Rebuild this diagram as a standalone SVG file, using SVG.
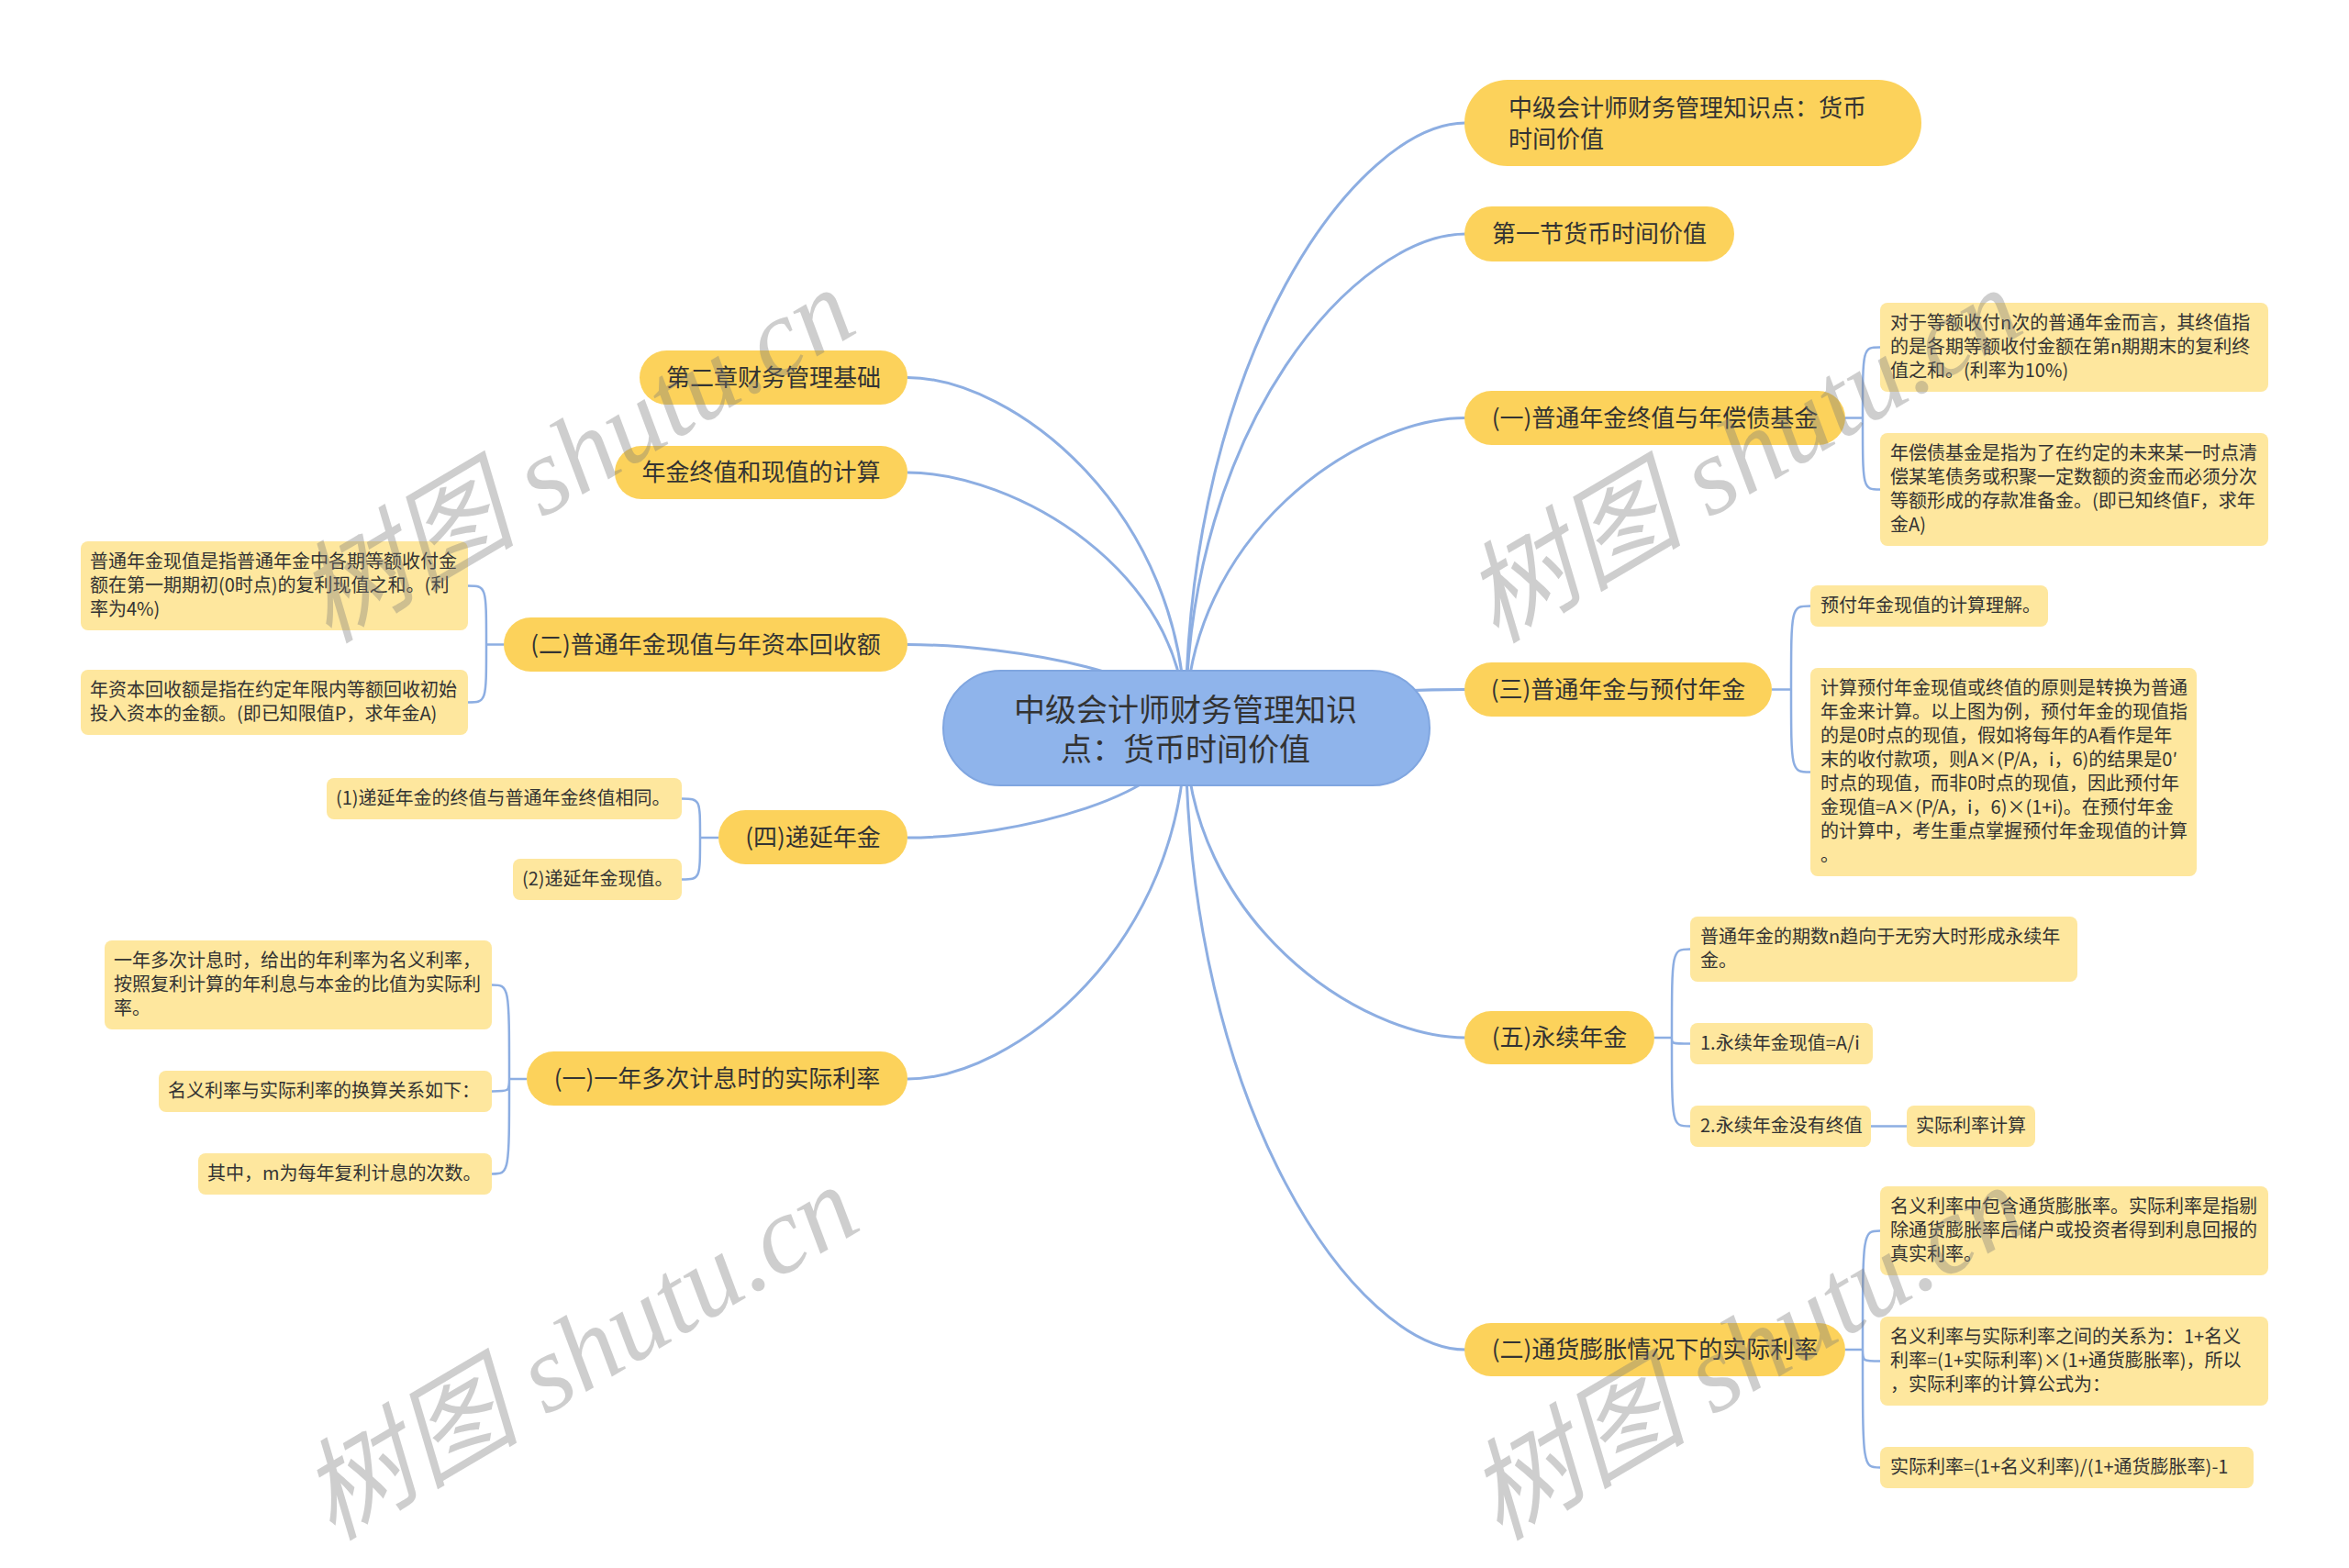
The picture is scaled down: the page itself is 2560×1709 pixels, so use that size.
<svg xmlns="http://www.w3.org/2000/svg" width="2560" height="1709" viewBox="0 0 2560 1709">
<style>
text{font-family:"Noto Sans CJK SC","Noto Sans",sans-serif;fill:#333333}
.conn path{fill:none;stroke:#8DAEE2;stroke-width:3}
.br path{fill:none;stroke:#8DAEE2;stroke-width:2.5}
.l1 rect{fill:#FCD25B}
.l1 text{font-size:26px}
.l1m text{text-anchor:middle}
.l2 rect{fill:#FEE79E}
.l2 text{font-size:20px}
.root rect{fill:#8FB4EB;stroke:#80A6E0;stroke-width:2}
.root text{font-size:34px;text-anchor:middle}
.wm{font-family:"Liberation Serif","Noto Sans CJK SC",serif;font-style:italic;font-size:120px;fill:#7a7a7a;opacity:0.36}
</style>
<rect width="2560" height="1709" fill="#ffffff"/>
<g id="connectors">
<g class="conn">
<path d="M1292 793 C1292 384.4 1481.1 134 1597 134"/>
<path d="M1292 793 C1292 459.4 1481.1 255 1597 255"/>
<path d="M1292 793 C1292 583.7 1481.1 455.5 1597 455.5"/>
<path d="M1292 793 C1292 767.3 1481.1 751.5 1597 751.5"/>
<path d="M1292 793 C1292 1002.6 1481.1 1131 1597 1131"/>
<path d="M1292 793 C1292 1213.4 1481.1 1471 1597 1471"/>
<path d="M1292 793 C1292 556.5 1104.1 411.5 989 411.5"/>
<path d="M1292 793 C1292 620.6 1104.1 515 989 515"/>
<path d="M1292 793 C1292 736.9 1104.1 702.5 989 702.5"/>
<path d="M1292 793 C1292 867.4 1104.1 913 989 913"/>
<path d="M1292 793 C1292 1030.5 1104.1 1176 989 1176"/>
</g>
<g class="br">
<path d="M2011 455.5 H2030 M2030 455.5 C2030 378.5 2030 378.5 2049 378.5 M2030 455.5 C2030 533.5 2030 533.5 2049 533.5"/>
<path d="M1931 751.5 H1952 M1952 751.5 C1952 660.5 1952 660.5 1973 660.5 M1952 751.5 C1952 841.5 1952 841.5 1973 841.5"/>
<path d="M1803 1131 H1822 M1822 1131 C1822 1034.5 1822 1034.5 1842 1034.5 M1822 1131 C1822 1137.5 1822 1137.5 1842 1137.5 M1822 1131 C1822 1227.5 1822 1227.5 1842 1227.5"/>
<path d="M2039 1227.5 H2078"/>
<path d="M2011 1471 H2030 M2030 1471 C2030 1341.5 2030 1341.5 2049 1341.5 M2030 1471 C2030 1483.5 2030 1483.5 2049 1483.5 M2030 1471 C2030 1599.5 2030 1599.5 2049 1599.5"/>
<path d="M549 702.5 H530 M530 702.5 C530 638.5 530 638.5 510 638.5 M530 702.5 C530 765.5 530 765.5 510 765.5"/>
<path d="M783 913 H763 M763 913 C763 870.5 763 870.5 743 870.5 M763 913 C763 958.5 763 958.5 743 958.5"/>
<path d="M574 1176 H555 M555 1176 C555 1073.5 555 1073.5 536 1073.5 M555 1176 C555 1189.5 555 1189.5 536 1189.5 M555 1176 C555 1279.5 555 1279.5 536 1279.5"/>
</g>
</g>

<g id="root" class="root">
<rect x="1028" y="731" width="530" height="125" rx="62.5"/>
<text x="1292" y="786">中级会计师财务管理知识</text>
<text x="1292" y="829">点：货币时间价值</text>
</g>

<g id="r1" class="l1"><rect x="1596" y="87" width="498" height="94" rx="47"/>
<text x="1644" y="127">中级会计师财务管理知识点：货币</text><text x="1644" y="161">时间价值</text></g>
<g id="r2" class="l1 l1m"><rect x="1596" y="225" width="294" height="60" rx="30"/><text x="1743" y="264">第一节货币时间价值</text></g>
<g id="r3" class="l1 l1m"><rect x="1596" y="426" width="415" height="59" rx="29.5"/><text x="1803.5" y="465">(一)普通年金终值与年偿债基金</text></g>
<g id="r4" class="l1 l1m"><rect x="1596" y="722" width="335" height="59" rx="29.5"/><text x="1763.5" y="761">(三)普通年金与预付年金</text></g>
<g id="r5" class="l1 l1m"><rect x="1596" y="1102" width="207" height="58" rx="29"/><text x="1699.5" y="1140">(五)永续年金</text></g>
<g id="r6" class="l1 l1m"><rect x="1596" y="1442" width="415" height="58" rx="29"/><text x="1803.5" y="1480">(二)通货膨胀情况下的实际利率</text></g>
<g id="l1" class="l1 l1m"><rect x="697" y="382" width="292" height="59" rx="29.5"/><text x="843" y="421">第二章财务管理基础</text></g>
<g id="l2" class="l1 l1m"><rect x="670" y="486" width="319" height="58" rx="29"/><text x="829.5" y="524">年金终值和现值的计算</text></g>
<g id="l3" class="l1 l1m"><rect x="549" y="673" width="440" height="59" rx="29.5"/><text x="769" y="712">(二)普通年金现值与年资本回收额</text></g>
<g id="l4" class="l1 l1m"><rect x="783" y="883" width="206" height="59" rx="29.5"/><text x="886" y="922">(四)递延年金</text></g>
<g id="l5" class="l1 l1m"><rect x="574" y="1146" width="415" height="59" rx="29.5"/><text x="781.5" y="1185">(一)一年多次计息时的实际利率</text></g>

<g id="a" class="l2"><rect x="2049" y="330" width="423" height="97" rx="8"/>
<text x="2060" y="359">对于等额收付n次的普通年金而言，其终值指</text>
<text x="2060" y="385">的是各期等额收付金额在第n期期末的复利终</text>
<text x="2060" y="411">值之和。(利率为10%)</text></g>
<g id="b" class="l2"><rect x="2049" y="472" width="423" height="123" rx="8"/>
<text x="2060" y="501">年偿债基金是指为了在约定的未来某一时点清</text>
<text x="2060" y="527">偿某笔债务或积聚一定数额的资金而必须分次</text>
<text x="2060" y="553">等额形成的存款准备金。(即已知终值F，求年</text>
<text x="2060" y="579">金A)</text></g>
<g id="c" class="l2"><rect x="1973" y="638" width="259" height="45" rx="8"/>
<text x="1984" y="667">预付年金现值的计算理解。</text></g>
<g id="d" class="l2"><rect x="1973" y="728" width="421" height="227" rx="8"/>
<text x="1984" y="757">计算预付年金现值或终值的原则是转换为普通</text>
<text x="1984" y="783">年金来计算。以上图为例，预付年金的现值指</text>
<text x="1984" y="809">的是0时点的现值，假如将每年的A看作是年</text>
<text x="1984" y="835">末的收付款项，则A×(P/A，i，6)的结果是0′</text>
<text x="1984" y="861">时点的现值，而非0时点的现值，因此预付年</text>
<text x="1984" y="887">金现值=A×(P/A，i，6)×(1+i)。在预付年金</text>
<text x="1984" y="913">的计算中，考生重点掌握预付年金现值的计算</text>
<text x="1984" y="939">。</text></g>
<g id="e" class="l2"><rect x="1842" y="999" width="422" height="71" rx="8"/>
<text x="1853" y="1028">普通年金的期数n趋向于无穷大时形成永续年</text>
<text x="1853" y="1054">金。</text></g>
<g id="f" class="l2"><rect x="1842" y="1115" width="199" height="45" rx="8"/>
<text x="1853" y="1144">1.永续年金现值=A/i</text></g>
<g id="g" class="l2"><rect x="1842" y="1205" width="197" height="45" rx="8"/>
<text x="1853" y="1234">2.永续年金没有终值</text></g>
<g id="h" class="l2"><rect x="2078" y="1205" width="140" height="45" rx="8"/>
<text x="2088" y="1234">实际利率计算</text></g>
<g id="i" class="l2"><rect x="2049" y="1293" width="423" height="97" rx="8"/>
<text x="2060" y="1322">名义利率中包含通货膨胀率。实际利率是指剔</text>
<text x="2060" y="1348">除通货膨胀率后储户或投资者得到利息回报的</text>
<text x="2060" y="1374">真实利率。</text></g>
<g id="j" class="l2"><rect x="2049" y="1435" width="423" height="97" rx="8"/>
<text x="2060" y="1464">名义利率与实际利率之间的关系为：1+名义</text>
<text x="2060" y="1490">利率=(1+实际利率)×(1+通货膨胀率)，所以</text>
<text x="2060" y="1516">，实际利率的计算公式为：</text></g>
<g id="k" class="l2"><rect x="2049" y="1577" width="407" height="45" rx="8"/>
<text x="2060" y="1606">实际利率=(1+名义利率)/(1+通货膨胀率)-1</text></g>
<g id="lc1" class="l2"><rect x="88" y="590" width="422" height="97" rx="8"/>
<text x="98" y="619">普通年金现值是指普通年金中各期等额收付金</text>
<text x="98" y="645">额在第一期期初(0时点)的复利现值之和。(利</text>
<text x="98" y="671">率为4%)</text></g>
<g id="lc2" class="l2"><rect x="88" y="730" width="422" height="71" rx="8"/>
<text x="98" y="759">年资本回收额是指在约定年限内等额回收初始</text>
<text x="98" y="785">投入资本的金额。(即已知限值P，求年金A)</text></g>
<g id="lc3" class="l2"><rect x="356" y="848" width="387" height="45" rx="8"/>
<text x="366" y="877">(1)递延年金的终值与普通年金终值相同。</text></g>
<g id="lc4" class="l2"><rect x="559" y="936" width="184" height="45" rx="8"/>
<text x="569" y="965">(2)递延年金现值。</text></g>
<g id="lc5" class="l2"><rect x="114" y="1025" width="422" height="97" rx="8"/>
<text x="124" y="1054">一年多次计息时，给出的年利率为名义利率，</text>
<text x="124" y="1080">按照复利计算的年利息与本金的比值为实际利</text>
<text x="124" y="1106">率。</text></g>
<g id="lc6" class="l2"><rect x="173" y="1167" width="363" height="45" rx="8"/>
<text x="183" y="1196">名义利率与实际利率的换算关系如下：</text></g>
<g id="lc7" class="l2"><rect x="216" y="1257" width="320" height="45" rx="8"/>
<text x="226" y="1286">其中，m为每年复利计息的次数。</text></g>

<g id="watermarks">
<text class="wm" x="358" y="702" transform="rotate(-30.5 358 702)">树图 shutu.cn</text>
<text class="wm" x="1630" y="702" transform="rotate(-30.5 1630 702)">树图 shutu.cn</text>
<text class="wm" x="362" y="1680" transform="rotate(-30.5 362 1680)">树图 shutu.cn</text>
<text class="wm" x="1634" y="1680" transform="rotate(-30.5 1634 1680)">树图 shutu.cn</text>
</g>
</svg>
